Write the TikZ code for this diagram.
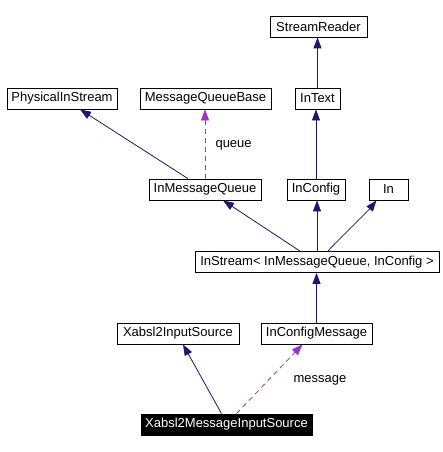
\documentclass[tikz,border=0pt]{standalone}
\usepackage{fontspec}
\setmainfont{Liberation Sans}
\usetikzlibrary{arrows.meta}
\definecolor{navy}{HTML}{191970}
\definecolor{orchid}{HTML}{9A32CD}
\begin{document}
\begin{tikzpicture}[x=1pt,y=-1pt,
  box/.style={draw=black,line width=0.8pt,minimum height=21pt,inner sep=0pt,
    font=\fontsize{13}{14}\selectfont,fill=white},
  inh/.style={draw=navy,line width=0.8pt,-{Triangle[length=11pt,width=8pt]}},
  use/.style={draw=orchid,line width=0.8pt,dash pattern=on 5pt off 4pt,
    -{Triangle[length=11pt,width=8pt]}},
  lbl/.style={font=\fontsize{13}{14}\selectfont}]
\useasboundingbox (0,0) rectangle (443,452);
\node[box,minimum width=97pt] (sr) at (318.5,26.5) {StreamReader};
\node[box,minimum width=110pt] (pis) at (62,98.5) {PhysicalInStream};
\node[box,minimum width=131pt] (mqb) at (205.5,98.5) {MessageQueueBase};
\node[box,minimum width=45pt] (intext) at (317.5,98.5) {InText};
\node[box,minimum width=112pt] (imq) at (205,189.5) {InMessageQueue};
\node[box,minimum width=58pt] (inconfig) at (316,189.5) {InConfig};
\node[box,minimum width=39pt] (in) at (388.5,189.5) {In};
\node[box,minimum width=244pt] (instream) at (317,262) {InStream< InMessageQueue, InConfig >};
\node[box,minimum width=122pt] (xis) at (178,333.5) {Xabsl2InputSource};
\node[box,minimum width=111pt] (icm) at (316.5,333.5) {InConfigMessage};
\node[box,minimum width=171pt,fill=black,text=white] (xmis) at (226.5,424.5) {Xabsl2MessageInputSource};

\draw[inh] ([xshift=-17pt]imq.north) -- ([xshift=18pt]pis.south);
\draw[use] (imq.north) -- (imq.north |- mqb.south);
\node[lbl,anchor=west] (q) at (212,145) {queue};
\draw[inh] (intext.north) -- (intext.north |- sr.south);
\draw[inh] (inconfig.north) -- (inconfig.north |- intext.south);
\draw[inh] ([xshift=-17pt]instream.north) -- ([xshift=18pt]imq.south);
\draw[inh] (instream.north) -- (instream.north |- inconfig.south);
\draw[inh] ([xshift=11pt]instream.north) .. controls +(3,-4) and +(-8,10) .. ([xshift=-12pt]in.south);
\draw[inh] (icm.north) -- (icm.north |- instream.south);
\draw[inh] ([xshift=-5pt]xmis.north) -- ([xshift=5pt]xis.south);
\draw[use] ([xshift=10pt]xmis.north) -- ([xshift=-14pt]icm.south);
\node[lbl,anchor=west] (m) at (290,380) {message};
\end{tikzpicture}
\end{document}
